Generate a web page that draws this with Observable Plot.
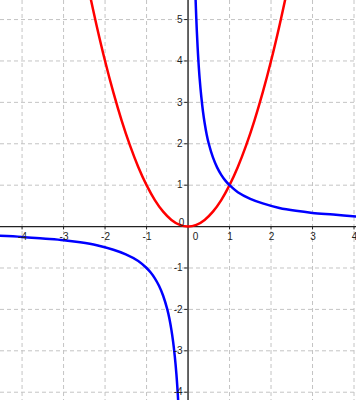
<!DOCTYPE html>
<html>
<head>
<meta charset="utf-8">
<script src="https://cdn.jsdelivr.net/npm/d3@7"></script>
<script src="https://cdn.jsdelivr.net/npm/@observablehq/plot@0.6"></script>
<style>
  html, body { margin: 0; padding: 0; background: #fff; }
  #chart svg { display: block; }
</style>
</head>
<body>
<div id="chart"></div>
<script>
// Tick values
const xTicks = [-4, -3, -2, -1, 1, 2, 3, 4];
const yTicks = [-4, -3, -2, -1, 1, 2, 3, 4, 5];
const xGrid = [-4, -3, -2, -1, 1, 2, 3, 4];
const yGrid = [-4, -3, -2, -1, 1, 2, 3, 4, 5];

// Red curve (parabola) points
const redX = [-2.36, -2.2, -2.0, -1.8, -1.6, -1.4, -1.2, -1.0, -0.8, -0.6, -0.4, -0.2, 0, 0.2, 0.4, 0.6, 0.8, 1.0, 1.2, 1.4, 1.6, 1.8, 2.0, 2.2, 2.36];
const redY = [5.57, 4.84, 4.0, 3.24, 2.56, 1.96, 1.44, 1.0, 0.64, 0.36, 0.16, 0.04, 0, 0.04, 0.16, 0.36, 0.64, 1.0, 1.44, 1.96, 2.56, 3.24, 4.0, 4.84, 5.57];

// Blue curve (hyperbola), right branch
const blueRX = [0.175, 0.19, 0.21, 0.23, 0.25, 0.28, 0.32, 0.36, 0.4, 0.45, 0.5, 0.6, 0.7, 0.8, 0.9, 1.0, 1.2, 1.5, 1.8, 2.2, 2.6, 3.0, 3.5, 4.1];
const blueRY = [5.71, 5.26, 4.76, 4.35, 4.0, 3.57, 3.13, 2.78, 2.5, 2.22, 2.0, 1.67, 1.43, 1.25, 1.11, 1.0, 0.83, 0.67, 0.56, 0.45, 0.38, 0.33, 0.29, 0.24];
// Blue curve, left branch
const blueLX = [-4.6, -4.0, -3.5, -3.0, -2.6, -2.2, -1.8, -1.5, -1.2, -1.0, -0.9, -0.8, -0.7, -0.6, -0.5, -0.45, -0.4, -0.36, -0.32, -0.28, -0.25, -0.23];
const blueLY = [-0.22, -0.25, -0.29, -0.33, -0.38, -0.45, -0.56, -0.67, -0.83, -1.0, -1.11, -1.25, -1.43, -1.67, -2.0, -2.22, -2.5, -2.78, -3.13, -3.57, -4.0, -4.35];

const red = redX.map((x, i) => ({x, y: redY[i]}));
const blueR = blueRX.map((x, i) => ({x, y: blueRY[i]}));
const blueL = blueLX.map((x, i) => ({x, y: blueLY[i]}));

const labelFont = "Liberation Sans, Arial, sans-serif";

const chart = Plot.plot({
  width: 356,
  height: 400,
  margin: 0,
  x: {domain: [-4.52, 4.06], axis: null},
  y: {domain: [-4.2, 5.46], axis: null},
  style: {background: "#fff", fontFamily: labelFont},
  marks: [
    Plot.ruleX(xGrid, {stroke: "#c4c4c4", strokeDasharray: "4,3", strokeWidth: 1}),
    Plot.ruleY(yGrid, {stroke: "#c4c4c4", strokeDasharray: "4,3", strokeWidth: 1}),
    Plot.ruleY([0], {stroke: "#222", strokeWidth: 1.4}),
    Plot.ruleX([0], {stroke: "#222", strokeWidth: 1.4}),
    Plot.ruleX(xTicks, {x: d => d, y1: 0, y2: -0.08, stroke: "#222", strokeWidth: 1}),
    Plot.ruleY(yTicks, {y: d => d, x1: -0.08, x2: 0, stroke: "#222", strokeWidth: 1}),
    Plot.line(red, {x: "x", y: "y", stroke: "#ff0000", strokeWidth: 2.5, curve: "catmull-rom", clip: true}),
    Plot.line(blueR, {x: "x", y: "y", stroke: "#0000ff", strokeWidth: 2.5, curve: "catmull-rom", clip: true}),
    Plot.line(blueL, {x: "x", y: "y", stroke: "#0000ff", strokeWidth: 2.5, curve: "catmull-rom", clip: true}),
    Plot.text(xTicks, {x: d => d, y: 0, text: d => String(d), dy: 10, dx: 0.5, fontSize: 10, fill: "#222", fontFamily: labelFont}),
    Plot.text(yTicks, {x: 0, y: d => d, text: d => String(d), dx: -5.5, textAnchor: "end", fontSize: 10, fill: "#222", fontFamily: labelFont}),
    Plot.text([0], {x: 0, y: 0, text: d => String(d), dx: 7.5, dy: 10, fontSize: 10, fill: "#222", fontFamily: labelFont}),
    Plot.text([0], {x: 0, y: 0, text: d => String(d), dx: -6.5, dy: -4, fontSize: 10, fill: "#222", fontFamily: labelFont})
  ]
});
document.getElementById("chart").appendChild(chart);
</script>
</body>
</html>
